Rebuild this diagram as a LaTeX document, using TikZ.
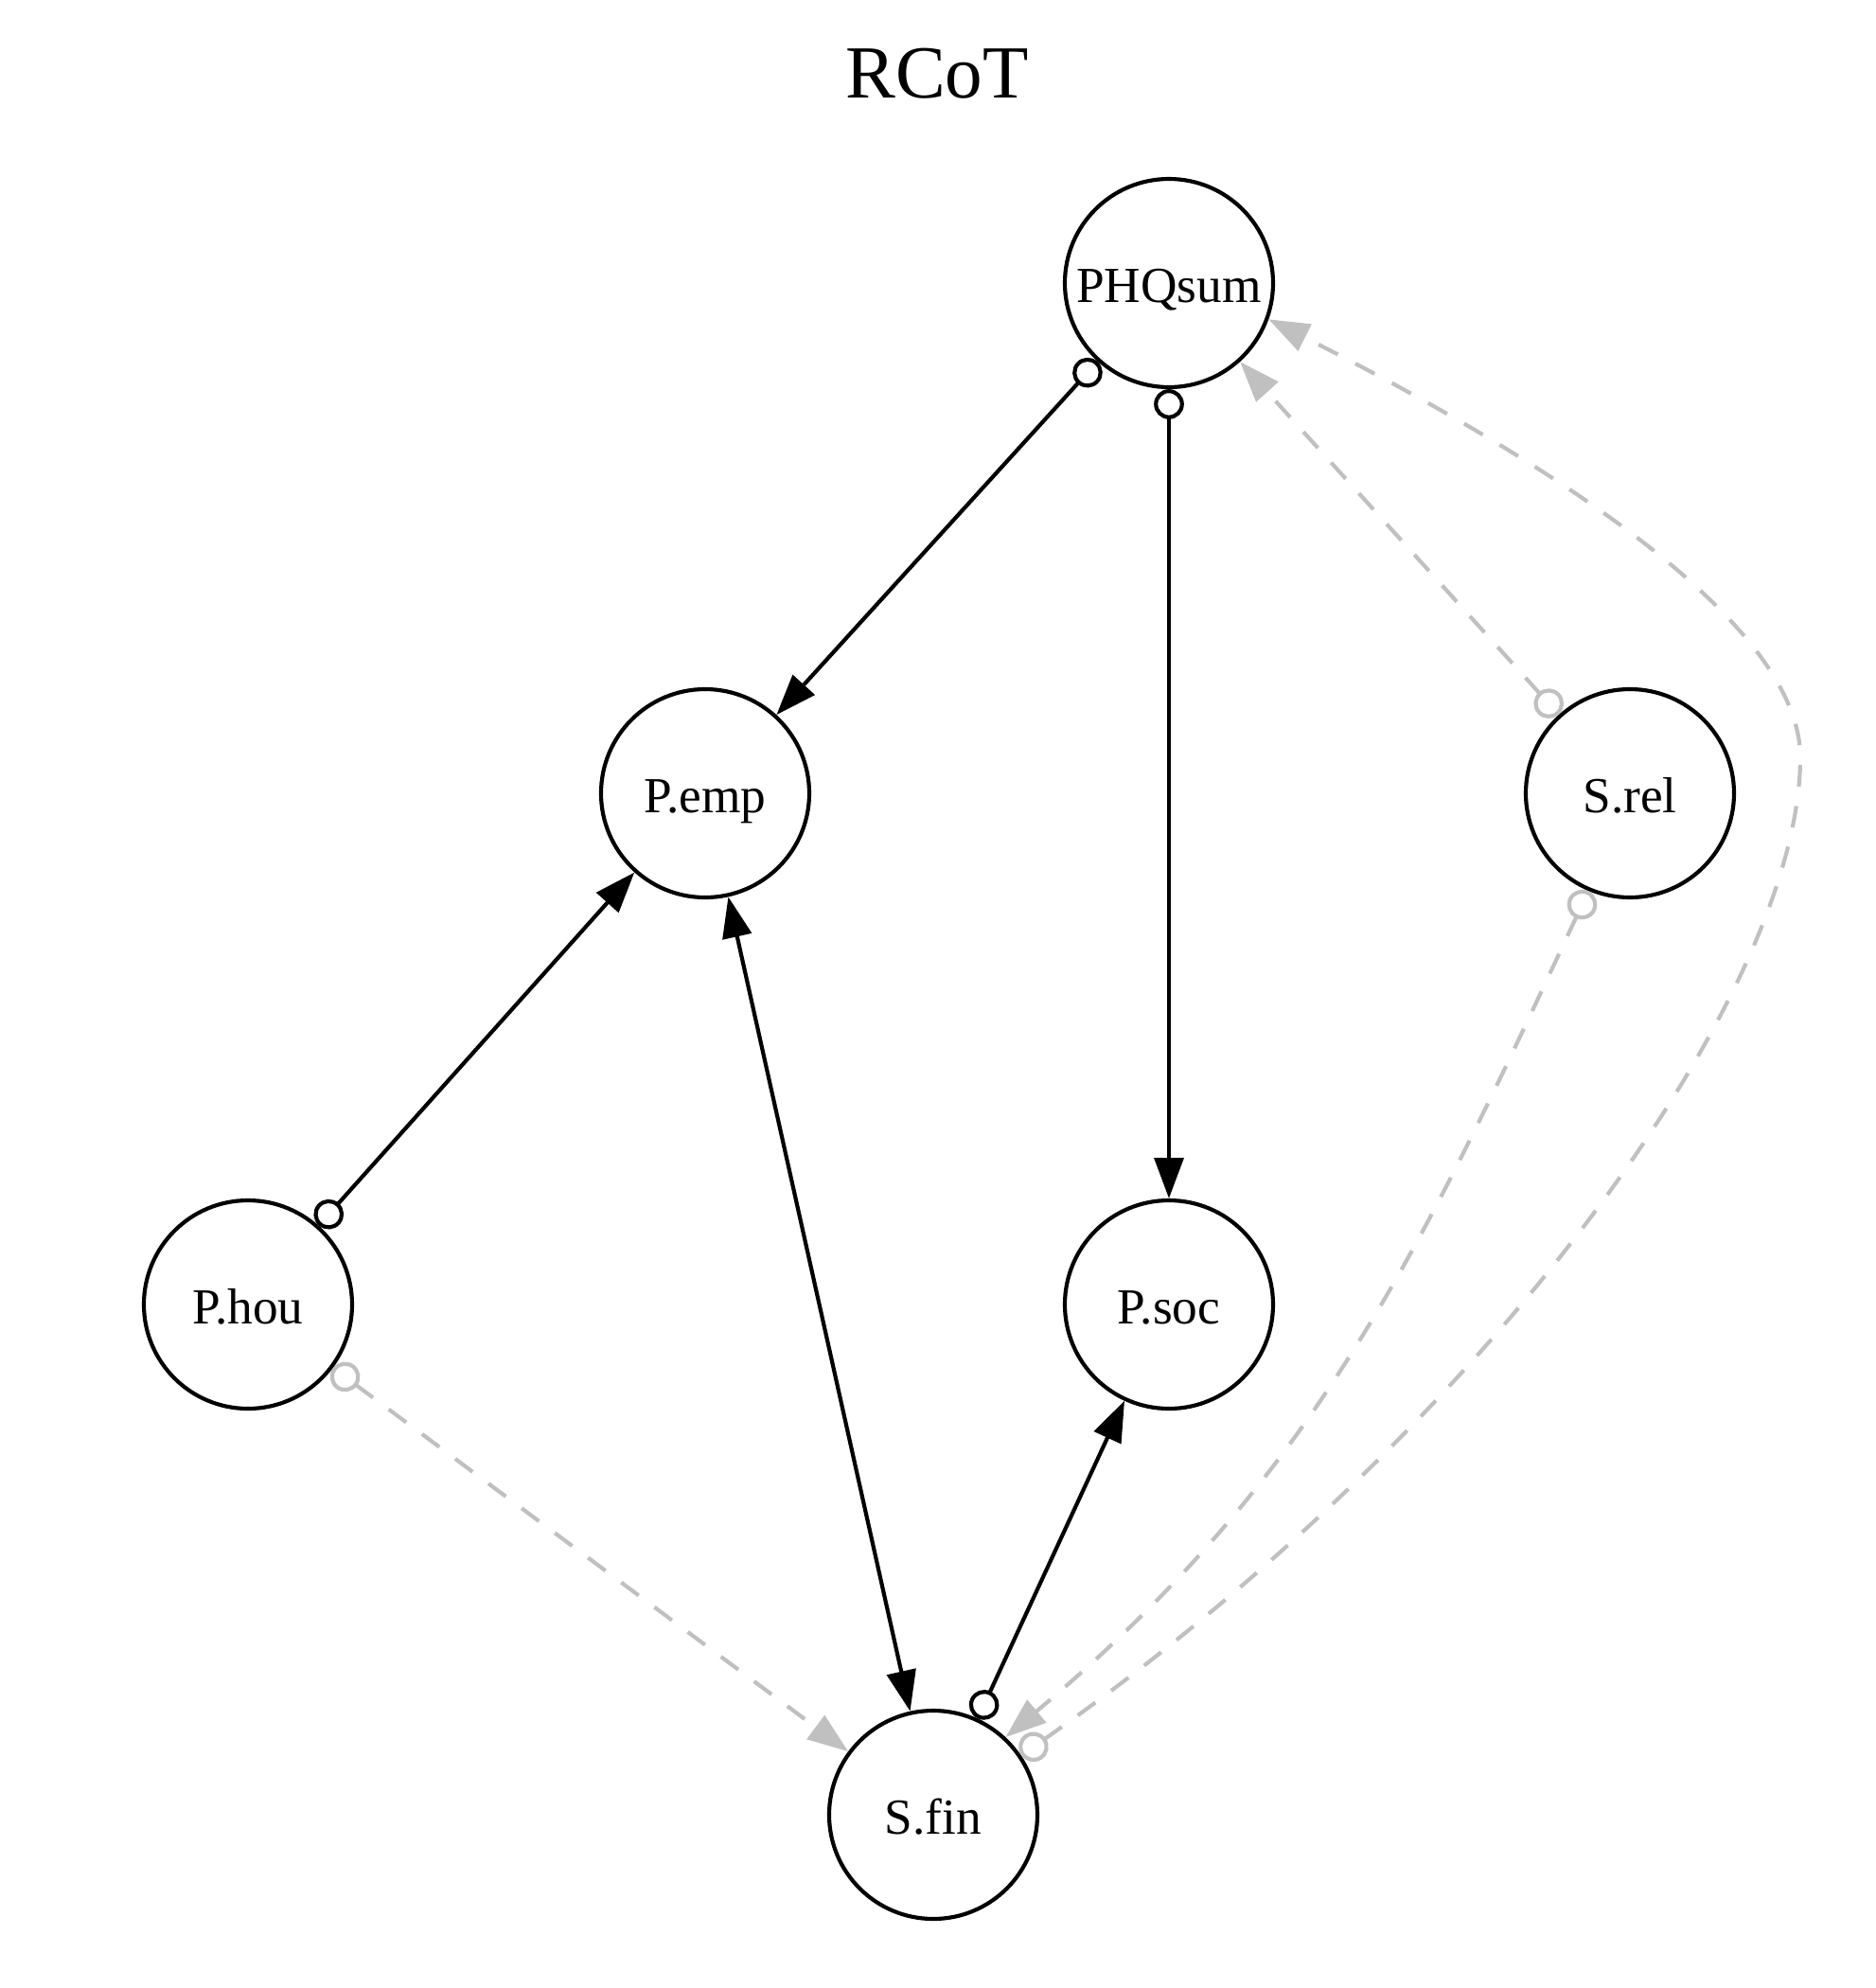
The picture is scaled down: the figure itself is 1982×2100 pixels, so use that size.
\documentclass[tikz,border=0pt]{standalone}
\usepackage{fontspec}
\setmainfont{Liberation Serif}
\usetikzlibrary{arrows.meta}
\definecolor{edgegray}{RGB}{192,192,192}
\begin{document}
\begin{tikzpicture}[x=0.24pt,y=-0.24pt,
  var/.style={circle, draw, line width=1pt, minimum size=52.8pt, inner sep=0pt,
    font=\fontsize{12.8}{15}\selectfont, text height=10pt, text depth=0pt},
  link/.style={line width=1pt, black},
  weak/.style={line width=1pt, draw=edgegray, dash pattern=on 5.5pt off 5pt},
  ohead/.tip={Circle[length=7.6pt, fill=white, sep=0pt]},
  ahead/.tip={Triangle[length=10.3pt, width=7.4pt]}]
  \useasboundingbox (0,0) rectangle (1982,2100);

  % title
  \node[anchor=base, font=\fontsize{19}{22}\selectfont] (title) at (990,103) {RCoT};

  % variables
  \node[var] (phq)  at (1235,299)  {PHQsum};
  \node[var] (pemp) at (745,838)   {P.emp};
  \node[var] (srel) at (1722,838)  {S.rel};
  \node[var] (phou) at (262,1378)  {P.hou};
  \node[var] (psoc) at (1235,1378) {P.soc};
  \node[var] (sfin) at (986,1917)  {S.fin};

  % solid links
  \draw[link, {ohead}-{ahead}] (phq) -- (pemp);
  \draw[link, {ohead}-{ahead}] (phq) -- (psoc);
  \draw[link, {ohead}-{ahead}] (phou) -- (pemp);
  \draw[link, {ahead}-{ahead}] (pemp) -- (sfin);
  \draw[link, {ohead}-{ahead}] (sfin) -- (psoc);

  % dashed links
  \draw[weak, {ohead}-{ahead}] (srel) -- (phq);
  \draw[weak, {ohead}-{ahead}] (phou) -- (sfin);
  \draw[weak, {ohead}-{ahead}] (srel.247) .. controls +(-180,385) and +(326,-273) .. (sfin.47);
  \coordinate (bend) at (1902,800);
  \draw[weak, {ohead}-{ahead}] (sfin.34) .. controls +(491,-344) and +(0,250) .. (bend)
        .. controls +(0,-150) and +(268,135) .. (phq.-20);
\end{tikzpicture}
\end{document}
